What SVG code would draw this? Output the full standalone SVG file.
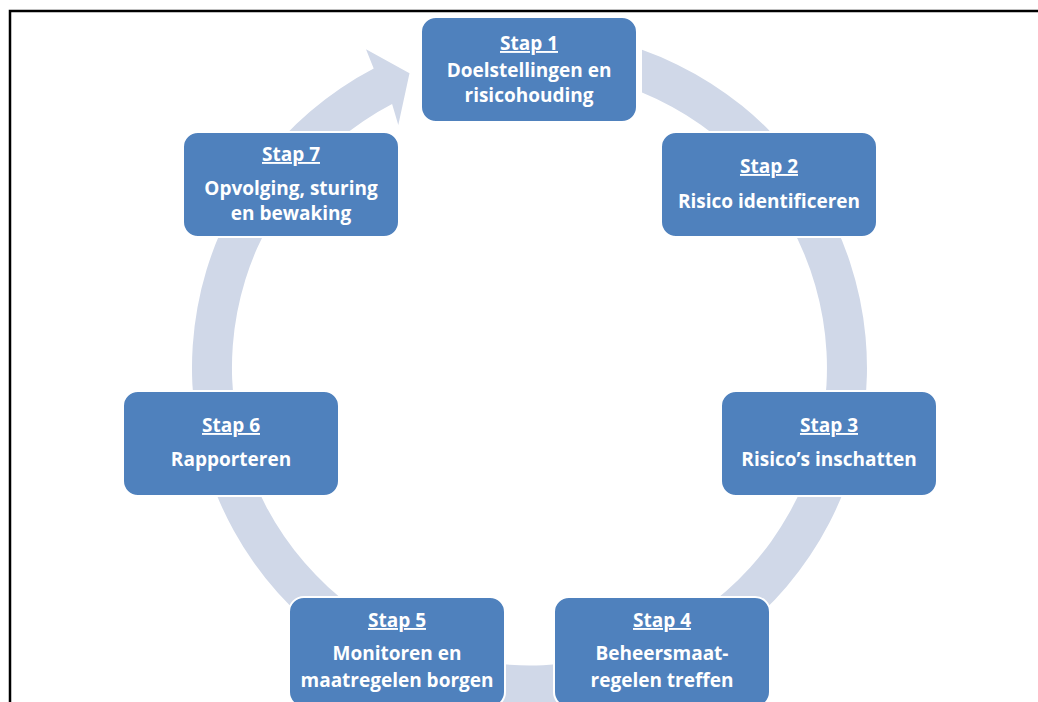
<svg xmlns="http://www.w3.org/2000/svg" width="1038" height="702" viewBox="0 0 1038 702">
<style>
.box{fill:#4F81BD;stroke:#FFFFFF;stroke-width:2}
.t{font-family:"Open Sans","Liberation Sans",sans-serif;font-weight:bold;font-size:19px;fill:#FFFFFF;text-anchor:middle}
.h{text-decoration:underline}
</style>
<rect x="0" y="0" width="1038" height="702" fill="#FFFFFF"/>
<path d="M10,702 V11 H1038" fill="none" stroke="#000000" stroke-width="2.5"/>
<g id="connectors">
<path d="M642,49.8 A337.5,337.5 0 1 1 373.7,68.6 L366,49.3 L409.5,73.3 L398.3,125 L392.1,104.1 A297.5,297.5 0 1 0 642,92.6 Z" fill="#D0D8E8"/>
</g>
<g id="stap1"><rect class="box" x="421" y="17" width="216" height="105" rx="15"/><text class="t h" x="529" y="50">Stap 1</text><text class="t" x="529" y="77">Doelstellingen en</text><text class="t" x="529" y="102">risicohouding</text></g>
<g id="stap2"><rect class="box" x="661" y="132" width="216" height="105" rx="15"/><text class="t h" x="769" y="173">Stap 2</text><text class="t" x="769" y="208">Risico identificeren</text></g>
<g id="stap3"><rect class="box" x="721" y="391" width="216" height="105" rx="15"/><text class="t h" x="829" y="432">Stap 3</text><text class="t" x="829" y="466">Risico’s inschatten</text></g>
<g id="stap4"><rect class="box" x="554" y="597" width="216" height="110" rx="15"/><text class="t h" x="662" y="627">Stap 4</text><text class="t" x="662" y="660">Beheersmaat-</text><text class="t" x="662" y="687">regelen treffen</text></g>
<g id="stap5"><rect class="box" x="289" y="597" width="216" height="110" rx="15"/><text class="t h" x="397" y="627">Stap 5</text><text class="t" x="397" y="660">Monitoren en</text><text class="t" x="397" y="687">maatregelen borgen</text></g>
<g id="stap6"><rect class="box" x="123" y="391" width="216" height="105" rx="15"/><text class="t h" x="231" y="432">Stap 6</text><text class="t" x="231" y="466">Rapporteren</text></g>
<g id="stap7"><rect class="box" x="183" y="132" width="216" height="105" rx="15"/><text class="t h" x="291" y="161">Stap 7</text><text class="t" x="291" y="195">Opvolging, sturing</text><text class="t" x="291" y="220">en bewaking</text></g>
</svg>
